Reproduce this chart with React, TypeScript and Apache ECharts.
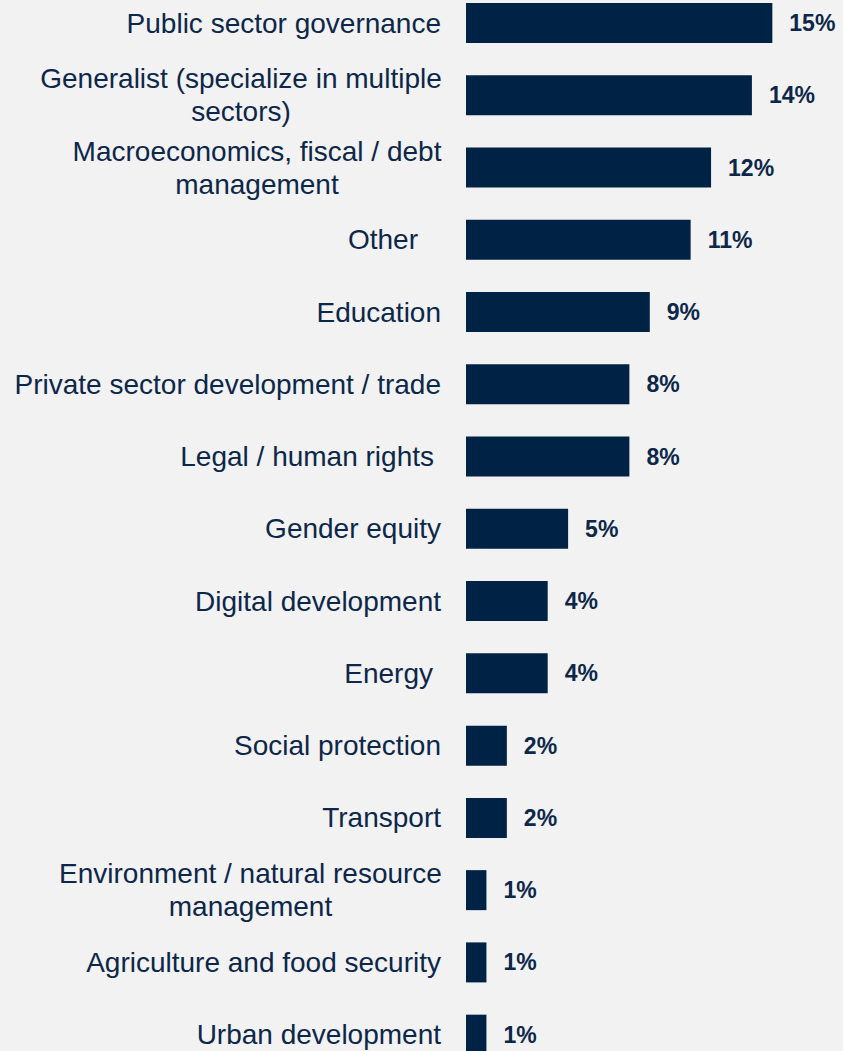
import React, { useEffect, useRef } from "react";
import * as echarts from "echarts";

const categories: string[] = [
  "Public sector governance",
  "Generalist (specialize in multiple\nsectors)",
  "Macroeconomics, fiscal / debt\nmanagement",
  "Other",
  "Education",
  "Private sector development / trade",
  "Legal / human rights",
  "Gender equity",
  "Digital development",
  "Energy",
  "Social protection",
  "Transport",
  "Environment / natural resource\nmanagement",
  "Agriculture and food security",
  "Urban development",
];

const values: number[] = [15, 14, 12, 11, 9, 8, 8, 5, 4, 4, 2, 2, 1, 1, 1];

// layout-only helpers (not data)
const wrapWidths: Record<string, number> = {
  "Generalist (specialize in multiple\nsectors)": 400,
  "Macroeconomics, fiscal / debt\nmanagement": 368,
  "Environment / natural resource\nmanagement": 381,
};
const rightPad: Record<string, number> = {
  Other: 23,
  Energy: 8,
  "Legal / human rights": 7,
};

const NAVY = "#002244";
const TEXT = "#0c2749";
const FONT = "'Liberation Sans', Arial, Helvetica, sans-serif";

export default function App() {
  const ref = useRef<HTMLDivElement>(null);
  useEffect(() => {
    document.body.style.margin = "0";
    if (!ref.current) return;
    const chart = echarts.init(ref.current, undefined, { renderer: "svg" });

    const rich: Record<string, any> = {};
    const keyFor: Record<string, string> = {};
    categories.forEach((c, i) => {
      const k = "k" + i;
      keyFor[c] = k;
      if (wrapWidths[c]) {
        rich[k] = {
          width: wrapWidths[c],
          align: "center",
          fontSize: 28,
          lineHeight: 33,
          color: TEXT,
          fontFamily: FONT,
        };
      } else {
        rich[k] = {
          fontSize: 28,
          lineHeight: 33,
          color: TEXT,
          fontFamily: FONT,
          padding: [0, rightPad[c] || 0, 0, 0],
        };
      }
    });

    chart.setOption({
      animation: false,
      backgroundColor: "#f2f2f2",
      textStyle: { fontFamily: FONT },
      grid: {
        left: 466,
        right: 9.4,
        top: -13.1,
        bottom: -19.8,
        containLabel: false,
        outerBoundsMode: "none",
      },
      xAxis: {
        type: "value",
        min: 0,
        max: 18,
        show: false,
        splitLine: { show: false },
      },
      yAxis: {
        type: "category",
        inverse: true,
        data: categories,
        axisLine: { show: false },
        axisTick: { show: false },
        splitLine: { show: false },
        axisLabel: {
          margin: 25,
          fontSize: 28,
          lineHeight: 33,
          color: TEXT,
          fontFamily: FONT,
          align: "right",
          interval: 0,
          formatter: (v: string) => {
            const k = keyFor[v];
            return v
              .split("\n")
              .map((line) => `{${k}|${line}}`)
              .join("\n");
          },
          rich,
        },
      },
      series: [
        {
          type: "bar",
          data: values,
          barWidth: 40,
          itemStyle: { color: NAVY },
          label: {
            show: true,
            position: "right",
            distance: 17,
            formatter: "{c}%",
            fontSize: 23,
            fontWeight: "bold",
            color: TEXT,
            fontFamily: FONT,
          },
        },
      ],
    });
    return () => chart.dispose();
  }, []);
  return <div ref={ref} style={{ width: 843, height: 1051 }} />;
}
